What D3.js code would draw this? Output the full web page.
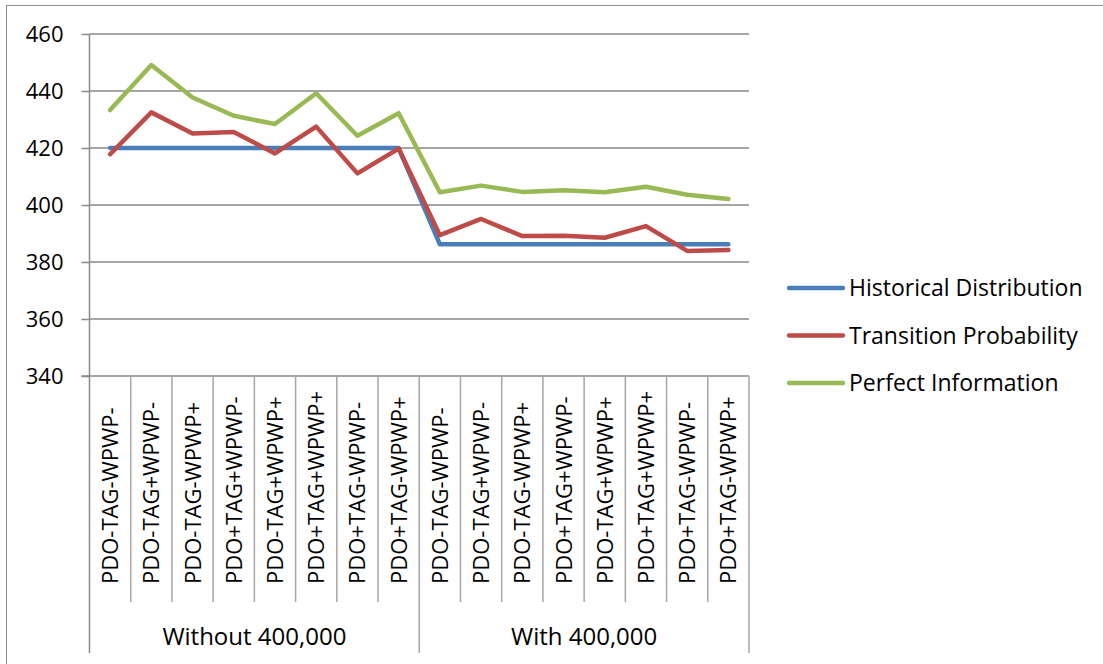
<!DOCTYPE html>
<html>
<head>
<meta charset="utf-8">
<script src="https://cdn.jsdelivr.net/npm/d3@7"></script>
<style>
  html, body { margin: 0; padding: 0; background: #fff; }
  svg { display: block; font-family: "Open Sans", sans-serif; }
</style>
</head>
<body>
<svg id="chart" width="1103" height="664"></svg>
<script>
// Scenario categories along the x axis
const categories = [
  "PDO-TAG-WPWP-", "PDO-TAG+WPWP-", "PDO-TAG-WPWP+", "PDO+TAG+WPWP-",
  "PDO-TAG+WPWP+", "PDO+TAG+WPWP+", "PDO+TAG-WPWP-", "PDO+TAG-WPWP+",
  "PDO-TAG-WPWP-", "PDO-TAG+WPWP-", "PDO-TAG-WPWP+", "PDO+TAG+WPWP-",
  "PDO-TAG+WPWP+", "PDO+TAG+WPWP+", "PDO+TAG-WPWP-", "PDO+TAG-WPWP+"
];
const groups = ["Without 400,000", "With 400,000"];
const groupSize = 8;

const seriesNames = ["Historical Distribution", "Transition Probability", "Perfect Information"];
const historical = [420, 420, 420, 420, 420, 420, 420, 420,
                    386.2, 386.2, 386.2, 386.2, 386.2, 386.2, 386.2, 386.2];
const transition = [417.8, 432.5, 425.1, 425.6, 418.1, 427.5, 411.1, 419.8,
                    389.4, 395.1, 389.1, 389.2, 388.5, 392.6, 383.9, 384.2];
const perfect = [433.3, 449.1, 437.7, 431.3, 428.4, 439.2, 424.3, 432.2,
                 404.5, 406.8, 404.6, 405.2, 404.5, 406.4, 403.6, 402.1];
const yTicks = [340, 360, 380, 400, 420, 440, 460];
const colors = ["#4a7ebb", "#be4b48", "#98b954"];

const svg = d3.select("#chart");
const font = "'Open Sans', sans-serif";

// outer frame (only top and left edges fall inside the canvas)
svg.append("rect")
  .attr("x", 6.5).attr("y", 5.5).attr("width", 1200).attr("height", 1000)
  .attr("fill", "none").attr("stroke", "#8c8c8c").attr("stroke-width", 1);

const plot = { left: 89.5, right: 749, top: 34, bottom: 376 };

const x = d3.scaleBand().domain(d3.range(categories.length))
  .range([plot.left, plot.right]).paddingInner(0).paddingOuter(0);
const y = d3.scaleLinear().domain([340, 460]).range([plot.bottom, plot.top]);

const gridColor = "#898989";

// horizontal gridlines
svg.append("g").selectAll("line").data(yTicks.slice(1)).join("line")
  .attr("x1", plot.left).attr("x2", plot.right)
  .attr("y1", d => y(d)).attr("y2", d => y(d))
  .attr("stroke", gridColor).attr("stroke-width", 1.5);

// y axis with outward ticks
const yAxis = d3.axisLeft(y).tickValues(yTicks).tickSize(8).tickPadding(18)
  .tickFormat(d3.format("d"));
const yg = svg.append("g").attr("transform", `translate(${plot.left},0)`).call(yAxis);
yg.select(".domain").remove();
yg.attr("font-family", font).attr("font-size", 22);
yg.selectAll(".tick line").attr("stroke", gridColor).attr("stroke-width", 1.5);
yg.selectAll(".tick text").attr("fill", "#000").attr("dy", "0.36em");

// vertical axis line down through the category label area
svg.append("line")
  .attr("x1", plot.left).attr("x2", plot.left)
  .attr("y1", plot.top).attr("y2", 653)
  .attr("stroke", gridColor).attr("stroke-width", 1.5);

// category axis baseline
svg.append("line")
  .attr("x1", plot.left - 8).attr("x2", plot.right)
  .attr("y1", plot.bottom).attr("y2", plot.bottom)
  .attr("stroke", gridColor).attr("stroke-width", 1.5);

// dividers between categories and between groups
const boundaries = d3.range(1, categories.length + 1);
svg.append("g").selectAll("line").data(boundaries).join("line")
  .attr("x1", i => x(i - 1) + x.bandwidth())
  .attr("x2", i => x(i - 1) + x.bandwidth())
  .attr("y1", plot.bottom)
  .attr("y2", i => (i % groupSize === 0) ? 653 : 602)
  .attr("stroke", "#a6a6a6").attr("stroke-width", 1.5);

// rotated category labels
svg.append("g").selectAll("text").data(categories).join("text")
  .attr("transform", (d, i) => `translate(${x(i) + x.bandwidth() / 2 + 8},584) rotate(-90)`)
  .attr("font-size", 22)
  .attr("fill", "#000")
  .attr("text-anchor", "start")
  .text(d => d);

// group labels
svg.append("g").selectAll("text").data(groups).join("text")
  .attr("x", (d, g) => (x(g * groupSize) + x(g * groupSize + groupSize - 1) + x.bandwidth()) / 2)
  .attr("y", 645)
  .attr("font-size", 24)
  .attr("fill", "#000")
  .attr("text-anchor", "middle")
  .text(d => d);

// series lines
const seriesData = [historical, transition, perfect];
const line = d3.line()
  .x((d, i) => x(i) + x.bandwidth() / 2)
  .y(d => y(d));
svg.append("g").selectAll("path").data(seriesData).join("path")
  .attr("d", d => line(d))
  .attr("fill", "none")
  .attr("stroke", (d, i) => colors[i])
  .attr("stroke-width", 4.5)
  .attr("stroke-linejoin", "round")
  .attr("stroke-linecap", "round");

// legend
const legend = svg.append("g").selectAll("g").data(seriesNames).join("g")
  .attr("transform", (d, i) => `translate(789,${288 + i * 47.5})`);
legend.append("line")
  .attr("x1", 0).attr("x2", 54).attr("y1", 0).attr("y2", 0)
  .attr("stroke", (d, i) => colors[i]).attr("stroke-width", 4.5)
  .attr("stroke-linecap", "round");
legend.append("text")
  .attr("x", 60).attr("y", 0).attr("dy", "0.36em")
  .attr("font-size", 23)
  .attr("fill", "#000")
  .text(d => d);
</script>
</body>
</html>
